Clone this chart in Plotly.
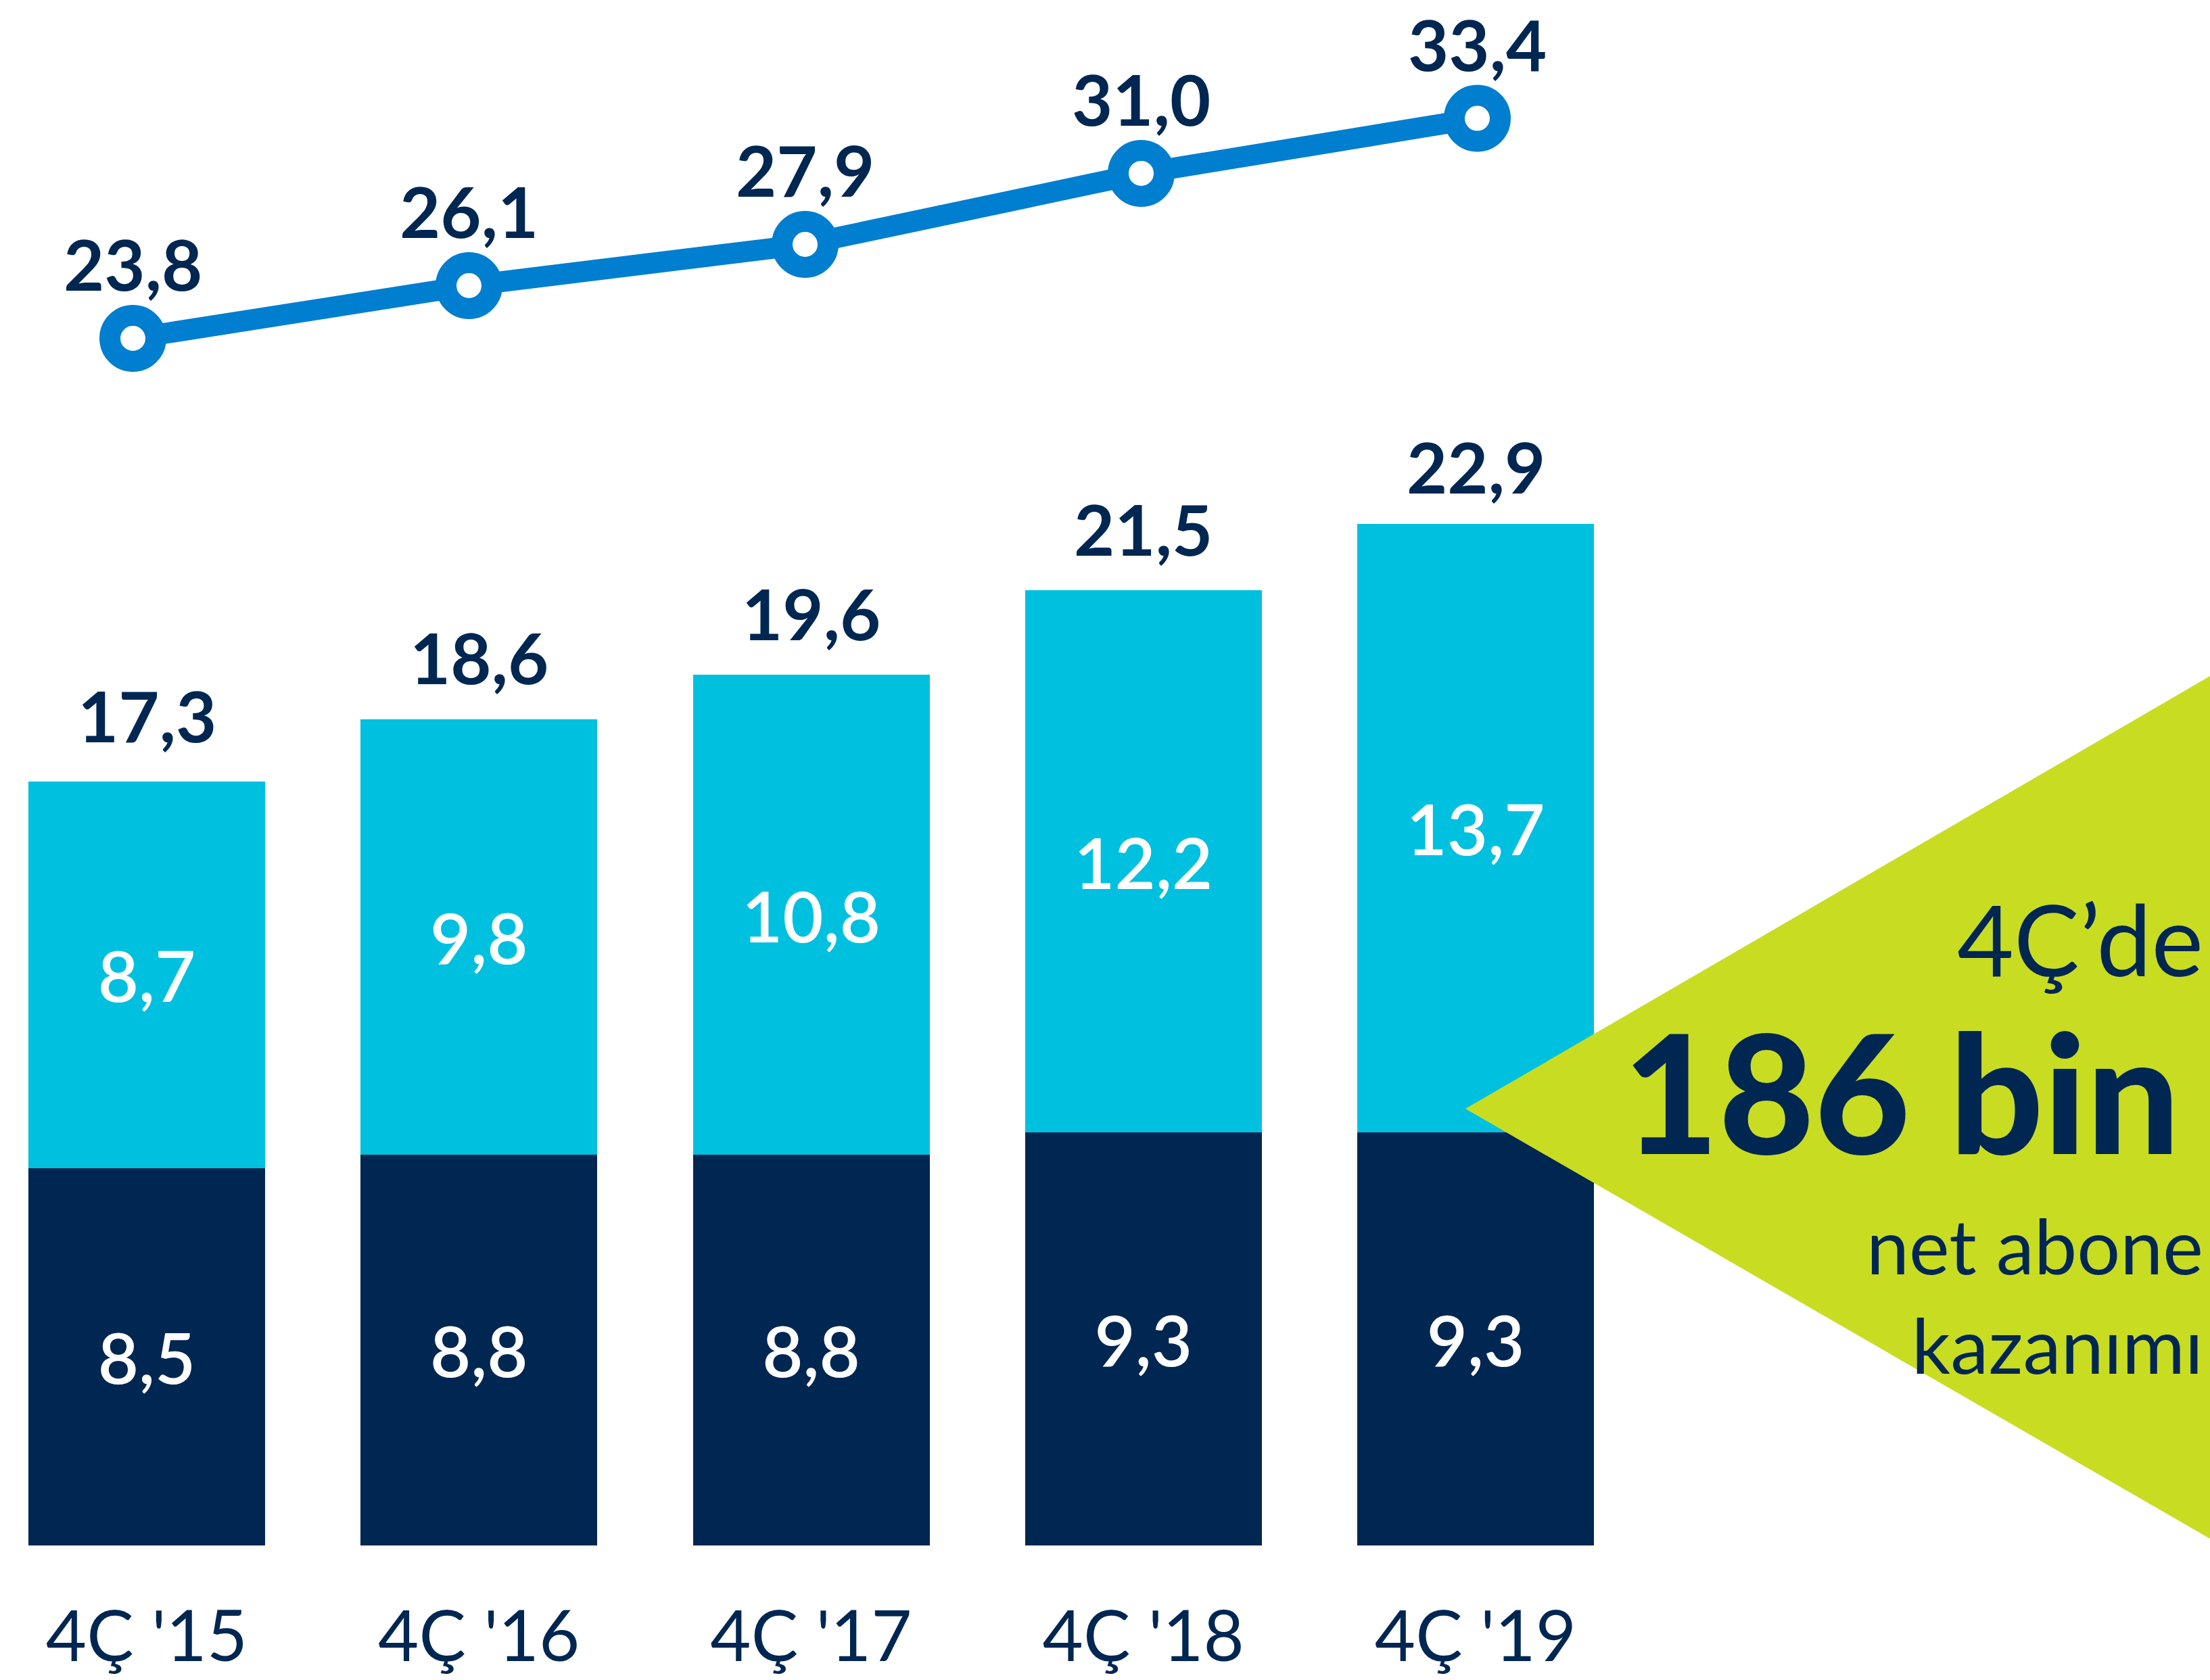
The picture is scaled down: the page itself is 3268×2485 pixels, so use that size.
import plotly.graph_objects as go

# ---- data ----
categories = ["4Ç '15", "4Ç '16", "4Ç '17", "4Ç '18", "4Ç '19"]
dark_vals = [8.5, 8.8, 8.8, 9.3, 9.3]
light_vals = [8.7, 9.8, 10.8, 12.2, 13.7]
bar_totals = [17.3, 18.6, 19.6, 21.5, 22.9]
line_vals = [23.8, 26.1, 27.9, 31.0, 33.4]

callout_top = "4Ç’de"
callout_big = "186 bin"
callout_lines = ["net abone", "kazanımı"]

# ---- style ----
W, H = 3268, 2485
NAVY = "#002652"
CYAN = "#00C0E0"
BLUE = "#007ECF"
LIME = "#C8DD22"
FONT = "Lato"

base_px = 2286          # bar baseline from top
bar_ppu = 65.7          # px per unit for bars
line_ppu = 33.9         # px per unit for line
line_ref_px = 500.5     # pixel of first line point

fig = go.Figure()
fig.add_trace(go.Bar(
    x=categories, y=dark_vals, marker_color=NAVY, marker_line_width=0,
    texttemplate="%{y:.1f}", textposition="inside", insidetextanchor="middle",
    textangle=0, textfont=dict(color="white", size=104, family=FONT, weight=600),
    hoverinfo="skip"))
fig.add_trace(go.Bar(
    x=categories, y=light_vals, marker_color=CYAN, marker_line_width=0,
    texttemplate="%{y:.1f}", textposition="inside", insidetextanchor="middle",
    textangle=0, textfont=dict(color="white", size=104, family=FONT, weight=600),
    hoverinfo="skip"))
fig.add_trace(go.Scatter(
    x=categories, y=line_vals, xaxis="x2", yaxis="y2", mode="lines+markers",
    line=dict(color=BLUE, width=31),
    marker=dict(size=68, color="white", line=dict(color=BLUE, width=31)),
    hoverinfo="skip"))

annotations = []
for c, t in zip(categories, bar_totals):
    annotations.append(dict(
        x=c, y=t, xref="x", yref="y", yshift=92, showarrow=False,
        text=f"{t:.1f}".replace(".", ","), yanchor="middle",
        font=dict(color=NAVY, size=104, family=FONT, weight=700)))
for c, v in zip(categories, line_vals):
    annotations.append(dict(
        x=c, y=v, xref="x2", yref="y2", yshift=111, showarrow=False,
        text=f"{v:.1f}".replace(".", ","), yanchor="middle",
        font=dict(color=NAVY, size=104, family=FONT, weight=700)))

annotations += [
    dict(x=3260 / W, y=1 - 1388 / H, xref="paper", yref="paper", xanchor="right", yanchor="middle",
         text=callout_top, showarrow=False, font=dict(color=NAVY, size=145, family=FONT)),
    dict(x=3226 / W, y=1 - 1612 / H, xref="paper", yref="paper", xanchor="right", yanchor="middle",
         text=callout_big, showarrow=False, font=dict(color=NAVY, size=244, family=FONT, weight=900)),
    dict(x=3260 / W, y=1 - 1914 / H, xref="paper", yref="paper", xanchor="right", yanchor="middle",
         align="right", text="<br>".join(callout_lines), showarrow=False,
         font=dict(color=NAVY, size=113, family=FONT)),
]

shapes = [dict(
    type="path", xref="paper", yref="paper", layer="above",
    path=f"M {2167/W},{1-1640/H} L 1,{1-1000/H} L 1,{1-2276/H} Z",
    fillcolor=LIME, line=dict(width=0))]

bar_spacing = 491.25
first_center = 217.0
x_r0 = -first_center / bar_spacing
x_r1 = x_r0 + W / bar_spacing
line_spacing = 497.0
line_first = 196.5
x2_r0 = -line_first / line_spacing
x2_r1 = x2_r0 + W / line_spacing

y_top = base_px / bar_ppu
y2_top = line_vals[0] + line_ref_px / line_ppu
y2_bot = y2_top - base_px / line_ppu

fig.update_layout(
    width=W, height=H,
    margin=dict(l=0, r=0, t=0, b=0),
    paper_bgcolor="white", plot_bgcolor="white",
    barmode="stack", bargap=1 - 350 / bar_spacing,
    showlegend=False, separators=",.",
    xaxis=dict(type="category", categoryarray=categories, range=[x_r0, x_r1],
               showgrid=False, zeroline=False, showline=False, ticks="",
               tickfont=dict(color=NAVY, size=104, family=FONT),
               ticklabelstandoff=66, automargin=False),
    xaxis2=dict(type="category", categoryarray=categories, overlaying="x",
                range=[x2_r0, x2_r1], visible=False),
    yaxis=dict(domain=[(H - base_px) / H, 1], range=[0, y_top], visible=False),
    yaxis2=dict(overlaying="y", range=[y2_bot, y2_top], visible=False),
    annotations=annotations, shapes=shapes,
)

fig.write_html(
    "out.html",
    config={"displayModeBar": False},
    post_script="document.body.style.margin='0';document.body.style.overflow='hidden';",
)
